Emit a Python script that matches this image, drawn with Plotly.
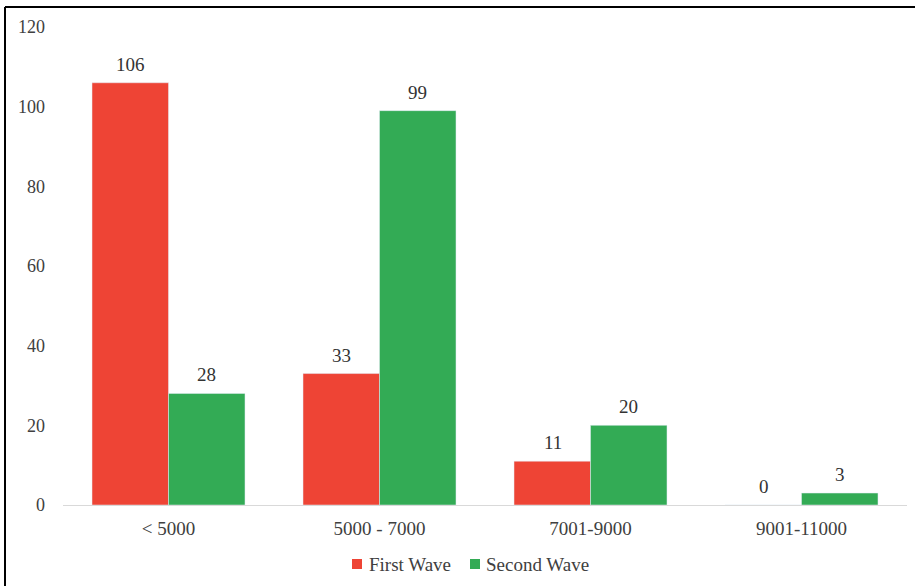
import plotly.graph_objects as go

categories = ["< 5000", "5000 - 7000", "7001-9000", "9001-11000"]
first_wave = [106, 33, 11, 0]
second_wave = [28, 99, 20, 3]
y_ticks = [0, 20, 40, 60, 80, 100, 120]
series = [("First Wave", first_wave, "#EE4435", -38),
          ("Second Wave", second_wave, "#33AB55", 38)]

FONT = "Liberation Serif, Times New Roman, serif"
TEXT = "#404040"

# plot area in pixels
W, H = 915, 586
plot_l, plot_r, plot_t, plot_b = 63, 907, 27, 505


def px_to_paper(px, py):
    return ((px - plot_l) / (plot_r - plot_l), (plot_b - py) / (plot_b - plot_t))


fig = go.Figure()
annotations = []
for name, values, color, shift in series:
    fig.add_trace(go.Bar(name=name, x=categories, y=values, marker_color=color))
    # value labels sitting a little above each bar
    for cat, v in zip(categories, values):
        annotations.append(dict(
            x=cat, y=v, xref="x", yref="y", text=str(v), showarrow=False,
            xshift=shift, yshift=6, yanchor="bottom",
            font=dict(family=FONT, size=19, color="#333333"),
        ))

# legend: small coloured squares followed by the series names
legend_items = [(352, 367, "#EE4435", "First Wave"), (470, 484, "#33AB55", "Second Wave")]
shapes = []
for sq_x, txt_x, color, label in legend_items:
    x0, y0 = px_to_paper(sq_x, 569)
    x1, y1 = px_to_paper(sq_x + 10, 559)
    shapes.append(dict(type="rect", xref="paper", yref="paper", x0=x0, x1=x1, y0=y0, y1=y1,
                       fillcolor=color, line=dict(width=0)))
    tx, ty = px_to_paper(txt_x, 564)
    annotations.append(dict(x=tx, y=ty, xref="paper", yref="paper", text=label,
                            showarrow=False, xanchor="left", yanchor="middle",
                            font=dict(family=FONT, size=19, color=TEXT)))

# frame lines along the top and left edges
bx, by_top = px_to_paper(5, 7)
_, by_bot = px_to_paper(5, 600)
rx, _ = px_to_paper(930, 7)
shapes += [
    dict(type="line", xref="paper", yref="paper", x0=bx, x1=rx, y0=by_top, y1=by_top,
         line=dict(color="black", width=2)),
    dict(type="line", xref="paper", yref="paper", x0=bx, x1=bx, y0=by_top, y1=by_bot,
         line=dict(color="black", width=2)),
]

fig.update_layout(
    width=W, height=H,
    margin=dict(l=plot_l, r=W - plot_r, t=plot_t, b=H - plot_b),
    paper_bgcolor="white", plot_bgcolor="white",
    barmode="group", bargap=0.275, bargroupgap=0,
    font=dict(family=FONT, size=19, color=TEXT),
    showlegend=False,
    xaxis=dict(showline=True, linecolor="#D9D9D9", linewidth=1, ticks="",
               ticklabelstandoff=6,
               tickfont=dict(family=FONT, size=19, color=TEXT), showgrid=False),
    yaxis=dict(range=[0, 120], tickvals=y_ticks, showgrid=False, zeroline=False,
               showline=False, ticks="", ticklabelstandoff=17,
               tickfont=dict(family=FONT, size=18, color=TEXT)),
    annotations=annotations,
    shapes=shapes,
)

fig.write_html("out.html")
